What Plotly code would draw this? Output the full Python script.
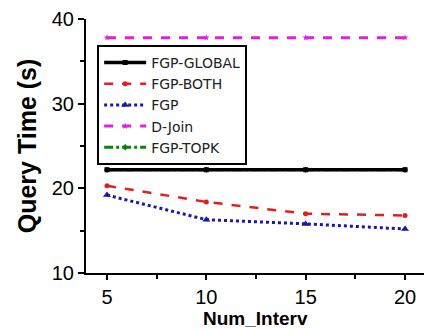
import plotly.graph_objects as go

x_vals = [5, 10, 15, 20]
fgp_global = [22.2, 22.2, 22.2, 22.2]
fgp_both = [20.3, 18.4, 17.0, 16.8]
fgp = [19.2, 16.3, 15.8, 15.2]
d_join = [37.8, 37.8, 37.8, 37.8]
fgp_topk = [22.2, 22.2, 22.2, 22.2]

fig = go.Figure()
fig.add_trace(go.Scatter(x=x_vals, y=fgp_topk, name="FGP-TOPK", mode="lines+markers",
                         line=dict(color="#108010", width=3, dash="dashdot"),
                         marker=dict(symbol="diamond", size=5, color="#108010"), legendrank=5))
fig.add_trace(go.Scatter(x=x_vals, y=fgp_global, name="FGP-GLOBAL", mode="lines+markers",
                         line=dict(color="black", width=3.5),
                         marker=dict(symbol="square", size=5, color="black"), legendrank=1))
fig.add_trace(go.Scatter(x=x_vals, y=fgp_both, name="FGP-BOTH", mode="lines+markers",
                         line=dict(color="#e02020", width=2.5, dash="dash"),
                         marker=dict(symbol="circle", size=5, color="#e02020"), legendrank=2))
fig.add_trace(go.Scatter(x=x_vals, y=fgp, name="FGP", mode="lines+markers",
                         line=dict(color="#1a1aa0", width=3, dash="dot"),
                         marker=dict(symbol="triangle-up", size=7, color="#1a1aa0"), legendrank=3))
fig.add_trace(go.Scatter(x=x_vals, y=d_join, name="D-Join", mode="lines+markers",
                         line=dict(color="#e020e0", width=3, dash="dash"),
                         marker=dict(symbol="star", size=5, color="#e020e0"), legendrank=4))

fig.update_layout(
    width=424, height=330,
    margin=dict(l=86, r=0, t=19, b=57),
    paper_bgcolor="white", plot_bgcolor="white",
    font=dict(family="Liberation Sans, Arial, sans-serif", color="black"),
    showlegend=True,
    legend=dict(x=0.033, y=0.898, xanchor="left", yanchor="top",
                bordercolor="black", borderwidth=2, bgcolor="white",
                font=dict(size=14, family="DejaVu Sans, sans-serif", color="#222"),
                itemwidth=42, tracegroupgap=0),
)
fig.add_annotation(text="<b>Num_Interv</b>", xref="paper", yref="paper",
                   x=0.5, y=0, yshift=-45, xanchor="center", yanchor="middle",
                   showarrow=False, font=dict(size=19))
fig.update_xaxes(range=[3.943, 20.955], tickvals=[5, 10, 15, 20],
                 showline=True, linecolor="black", linewidth=2,
                 ticks="outside", ticklen=5, tickwidth=2, tickcolor="black",
                 minor=dict(tickvals=[7.5, 12.5, 17.5], ticks="outside", ticklen=4, tickwidth=1.5, tickcolor="black"),
                 showgrid=False, zeroline=False,
                 tickfont=dict(size=20))
fig.update_yaxes(range=[10, 40], tickvals=[10, 20, 30, 40],
                 showline=True, linecolor="black", linewidth=2,
                 ticks="outside", ticklen=6, tickwidth=2, tickcolor="black",
                 minor=dict(tickvals=[15, 25, 35], ticks="outside", ticklen=4, tickwidth=1.5, tickcolor="black"),
                 showgrid=False, zeroline=False,
                 tickfont=dict(size=20),
                 title=dict(text="<b>Query Time (s)</b>", font=dict(size=25), standoff=8))

fig.write_html("out.html", config={"displayModeBar": False},
               post_script="document.body.style.margin='0';")
